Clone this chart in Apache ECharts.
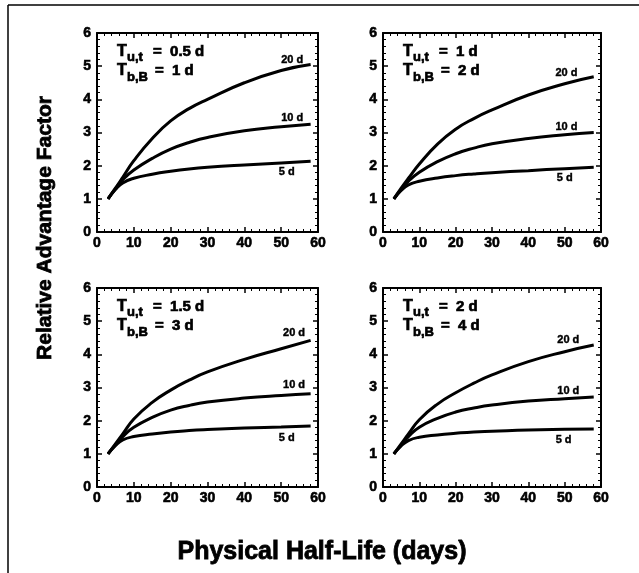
<!DOCTYPE html>
<html>
<head>
<meta charset="utf-8">
<script src="https://cdn.jsdelivr.net/npm/echarts@6/dist/echarts.min.js"></script>
<style>
  html, body { margin: 0; padding: 0; background: #fff; }
  #app { width: 639px; height: 573px; }
</style>
</head>
<body>
<div id="app"></div>
<script>
// physical half-life (days)
var halfLife = [3, 5, 7, 10, 15, 20, 25, 30, 40, 50, 58];

// relative advantage factor, one array per panel and biological half-life
var p1_20d = [1, 1.32, 1.65, 2.15, 2.82, 3.35, 3.72, 4.0, 4.5, 4.87, 5.05];
var p1_10d = [1, 1.3, 1.58, 1.87, 2.22, 2.5, 2.7, 2.85, 3.05, 3.17, 3.25];
var p1_5d  = [1, 1.28, 1.48, 1.62, 1.74, 1.83, 1.9, 1.95, 2.02, 2.08, 2.13];

var p2_20d = [1, 1.32, 1.62, 2.05, 2.65, 3.1, 3.42, 3.68, 4.13, 4.47, 4.68];
var p2_10d = [1, 1.28, 1.53, 1.8, 2.12, 2.36, 2.53, 2.66, 2.82, 2.93, 3.0];
var p2_5d  = [1, 1.25, 1.42, 1.53, 1.63, 1.7, 1.75, 1.79, 1.85, 1.91, 1.95];

var p3_20d = [1, 1.3, 1.6, 2.05, 2.55, 2.92, 3.22, 3.47, 3.85, 4.17, 4.42];
var p3_10d = [1, 1.27, 1.52, 1.8, 2.1, 2.32, 2.46, 2.56, 2.68, 2.76, 2.81];
var p3_5d  = [1, 1.25, 1.42, 1.52, 1.6, 1.66, 1.7, 1.73, 1.78, 1.81, 1.84];

var p4_20d = [1, 1.3, 1.6, 2.03, 2.5, 2.84, 3.13, 3.38, 3.78, 4.08, 4.28];
var p4_10d = [1, 1.27, 1.52, 1.8, 2.07, 2.26, 2.38, 2.47, 2.59, 2.66, 2.71];
var p4_5d  = [1, 1.24, 1.4, 1.5, 1.57, 1.62, 1.66, 1.68, 1.72, 1.74, 1.75];

var curveNames = ['20 d', '10 d', '5 d'];
var panelData = [
    [p1_20d, p1_10d, p1_5d],
    [p2_20d, p2_10d, p2_5d],
    [p3_20d, p3_10d, p3_5d],
    [p4_20d, p4_10d, p4_5d]
];
// where the "20 d / 10 d / 5 d" tags sit, in data units
var tagPos = [
    [[53, 5.2], [53, 3.45], [51.5, 1.82]],
    [[50.5, 4.8], [50.5, 3.16], [50, 1.63]],
    [[53.5, 4.64], [53.5, 3.07], [51.5, 1.48]],
    [[51, 4.43], [51, 2.89], [49.7, 1.42]]
];
var tuValues = ['0.5 d', '1 d', '1.5 d', '2 d'];
var tbValues = ['1 d', '2 d', '3 d', '4 d'];

var grids = [
    {left: 97, top: 33, width: 221, height: 199},
    {left: 383, top: 33, width: 218, height: 199},
    {left: 97, top: 288, width: 221, height: 199},
    {left: 383, top: 288, width: 218, height: 199}
];

var font = 'Liberation Sans';
var myChart = echarts.init(document.getElementById('app'));

var xAxes = [], yAxes = [], series = [], graphics = [];

function frameAxis(pos, show, max, interval, margin) {
    return {
        type: 'value', min: 0, max: max, interval: interval,
        position: pos,
        axisLine: {onZero: false, lineStyle: {color: '#000', width: 2}},
        axisTick: {inside: true, length: 5, lineStyle: {color: '#000', width: 1.5}},
        minorTick: {show: true, splitNumber: 5, length: 3, lineStyle: {color: '#000', width: 1}},
        splitLine: {show: false},
        axisLabel: {show: show, color: '#000', fontFamily: font, fontWeight: 'bold', fontSize: 14,
            margin: margin, textBorderColor: '#000', textBorderWidth: 0.6}
    };
}

function txt(x, y, s, size) {
    return {
        type: 'text', x: x, y: y,
        style: {text: s, fontFamily: font, fontWeight: 'bold', fontSize: size,
            fill: '#000', stroke: '#000', lineWidth: 0.7}
    };
}

grids.forEach(function (g, i) {
    var a;
    a = frameAxis('bottom', true, 60, 10, 4); a.gridIndex = i; xAxes.push(a);
    a = frameAxis('top', false, 60, 10, 4); a.gridIndex = i; xAxes.push(a);
    a = frameAxis('left', true, 6, 1, 6); a.gridIndex = i; yAxes.push(a);
    a = frameAxis('right', false, 6, 1, 6); a.gridIndex = i; yAxes.push(a);

    panelData[i].forEach(function (vals, k) {
        series.push({
            name: curveNames[k],
            type: 'line',
            xAxisIndex: i * 2,
            yAxisIndex: i * 2,
            data: halfLife.map(function (x, j) { return [x, vals[j]]; }),
            smooth: 0.5,
            showSymbol: false,
            silent: true,
            lineStyle: {color: '#000', width: 3},
            markPoint: {
                symbol: 'circle',
                symbolSize: 1,
                itemStyle: {color: 'rgba(0,0,0,0)'},
                label: {
                    show: true, position: 'inside', formatter: curveNames[k],
                    color: '#000', fontFamily: font, fontWeight: 'bold', fontSize: 11,
                    textBorderColor: '#000', textBorderWidth: 0.4
                },
                data: [{coord: tagPos[i][k]}]
            }
        });
    });

    // panel parameter text, T with subscripts
    var x0 = g.left + 20, y0 = g.top + 11;
    graphics.push(txt(x0, y0, 'T', 16));
    graphics.push(txt(x0 + 10, y0 + 7, 'u,t', 13));
    graphics.push(txt(x0 + 36, y0, '=  ' + tuValues[i], 15));
    graphics.push(txt(x0, y0 + 19, 'T', 16));
    graphics.push(txt(x0 + 10, y0 + 27, 'b,B', 13));
    graphics.push(txt(x0 + 38, y0 + 19, '=  ' + tbValues[i], 15));
});

// outer frame lines
graphics.push({type: 'line', shape: {x1: 8, y1: 5, x2: 639, y2: 5}, style: {stroke: '#000', lineWidth: 1.5}});
graphics.push({type: 'line', shape: {x1: 8, y1: 5, x2: 8, y2: 573}, style: {stroke: '#000', lineWidth: 1.5}});

// axis titles
graphics.push({
    type: 'text', x: 322, y: 552,
    style: {text: 'Physical Half-Life (days)', align: 'center', verticalAlign: 'middle',
        fontFamily: font, fontWeight: 'bold', fontSize: 25, fill: '#000', stroke: '#000', lineWidth: 0.8}
});
graphics.push({
    type: 'text', x: 45, y: 228,
    rotation: Math.PI / 2,
    style: {text: 'Relative Advantage Factor', align: 'center', verticalAlign: 'middle',
        fontFamily: font, fontWeight: 'bold', fontSize: 21, fill: '#000', stroke: '#000', lineWidth: 0.8}
});

var option = {
    animation: false,
    backgroundColor: '#fff',
    grid: grids,
    xAxis: xAxes,
    yAxis: yAxes,
    series: series,
    graphic: graphics
};
myChart.setOption(option);
</script>
</body>
</html>
